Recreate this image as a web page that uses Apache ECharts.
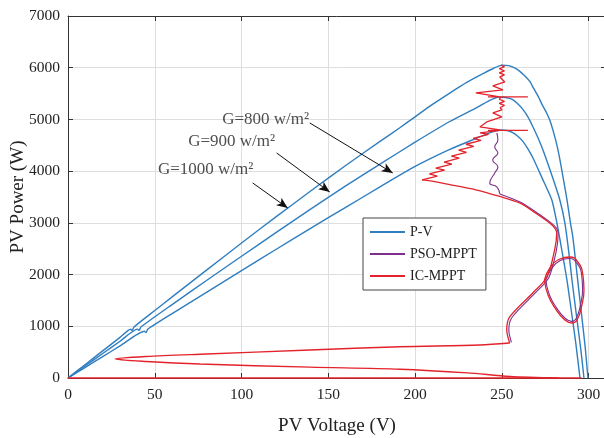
<!DOCTYPE html>
<html><head><meta charset="utf-8">
<script src="https://cdn.jsdelivr.net/npm/echarts@6/dist/echarts.min.js"></script>
<style>html,body{margin:0;padding:0;background:#fff}#c{width:604px;height:438px}</style>
</head><body><div id="c"></div>
<script>
// ---- tick labels ----
const xTicks = [0, 50, 100, 150, 200, 250, 300];
const yTicks = [0, 1000, 2000, 3000, 4000, 5000, 6000, 7000];

// ---- P-V curves [V, P] ----
const pv1000 = [[0,0],[10,262],[20,524],[30,786],[36,943],[37,920],[38,985],[50,1305],[60,1568],[80,2090],[100,2610],[120,3120],[140,3620],[160,4110],[180,4580],[191,4835],[200,5050],[210,5290],[220,5510],[230,5720],[240,5900],[245,5985],[250,6050],[254,6040],[257,6000],[260,5940],[263,5850],[266,5740],[268,5620],[271,5440],[273,5300],[276,5110],[278,4950],[281,4600],[283,4300],[285,3930],[287.5,3450],[289.5,3000],[291,2700],[293.5,1950],[296,1200],[298,600],[299.6,0]];
const pv900 = [[0,0],[10,237],[20,474],[30,711],[40,945],[41,920],[42,985],[60,1420],[80,1890],[100,2355],[120,2815],[140,3270],[160,3715],[180,4140],[200,4560],[220,4960],[235,5220],[242,5350],[248,5435],[252,5425],[256,5390],[259,5310],[262,5200],[265,5050],[268,4850],[271,4630],[274,4380],[279,3900],[283.4,3443],[286.3,3000],[288.5,2450],[290.4,1895],[293,1200],[295.5,550],[297.3,0]];
const pv800 = [[0,0],[10,207],[20,414],[30,621],[44,905],[45,880],[46,945],[60,1245],[80,1660],[100,2075],[120,2490],[140,2900],[160,3300],[180,3700],[200,4090],[220,4420],[235,4630],[243,4740],[249,4796],[253,4785],[256,4750],[259,4680],[262,4580],[265,4430],[268,4250],[273,3880],[278.8,3443],[281.7,3000],[284.5,2480],[287.5,1895],[290,1300],[292.5,700],[295,0]];

// ---- IC-MPPT trajectory pieces [V, P] ----
const icAxis = [[0,0],[296,0]];
const icLoop = [[283,0],[254.5,30],[230,100],[191.2,170],[139.4,210],[76.1,270],[45,320],[27.2,367],[45,415],[76.1,460],[139.4,541],[191.2,605],[237.3,638],[254.5,677]];
const icRise = [[254.5,677],[252.8,928],[254.5,1180],[267.8,1644],[276,1953],[280.4,2476],[281.6,2804],[280.5,2900],[277.5,2998],[268,3220],[260.3,3385],[248.8,3510],[235,3640],[220,3740],[206.8,3820],[204,3830]];
const icEllipse = [[274.5,1895],[277.7,2127],[283.4,2301],[289.2,2340],[293.8,2243],[296.7,1992],[297.3,1702],[296.1,1412],[293.3,1122],[290.4,1064],[286.3,1122],[280.6,1354],[276.6,1605],[274.5,1895]];
const icSteps = [[204,3830],[212.8,3905],[208.2,3945],[217,4020],[211.9,4060],[221.2,4135],[216.7,4175],[225.4,4250],[220.9,4290],[229.6,4365],[225.1,4405],[233.8,4480],[229.3,4520],[238,4595],[233.5,4635],[242.3,4710],[237.4,4740],[249,4790],
  [265,4790],[242,4790],[248.8,4796],
  [237.3,4854],[241.3,4951],[250,5048],[244.8,5125],[250,5183],[249,5230],[251.5,5270],[248.5,5310],[251.5,5350],[248.5,5390],[249.5,5435],
  [265,5435],[242,5435],[248.8,5435],
  [235,5512],[250.6,5570],[244.8,5647],[251.7,5725],[248.8,5821],[251.5,5860],[248.5,5900],[251.5,5940],[248.5,5980],[251.5,6020],[249.5,6050]];

// ---- PSO-MPPT trajectory pieces [V, P] ----
const psoRise = [[255.5,690],[254,930],[255.8,1170],[268.8,1630],[277,1940],[281.4,2470],[282.4,2800],[281.3,2905],[278,3010],[268.5,3235],[260.8,3400],[248.8,3560]];
const psoEllipse = [[275.3,1895],[278.3,2100],[283.6,2270],[289,2310],[293.2,2220],[296,1990],[296.5,1710],[295.4,1430],[292.8,1150],[290.2,1095],[286.6,1150],[281.2,1370],[277.3,1615],[275.3,1895]];
const psoWobble = [[248.8,3560],[247.1,3694],[243,3771],[245.9,3965],[247.7,4081],[244.7,4216],[247.7,4352],[245.9,4468],[247.7,4603],[247.1,4738]];

// ---- annotations ----
const noteTexts = ['G=800 w/m²', 'G=900 w/m²', 'G=1000 w/m²'];
const notePos = [[113.9,4990],[94.3,4564],[79.3,4023]];
const arrowFrom = [[139.3,4932],[120.2,4352],[106.4,3772]];
const arrowTo = [[187.1,3965],[150.8,3597],[126.6,3288]];

const FONT = "'Liberation Serif','DejaVu Serif',serif";
const BLUE = '#2f7ec0', RED = '#e3232b', PURPLE = '#7e2f8e';

function lineSeries(name, data, color, width, smooth, z) {
  return { name, type: 'line', data, showSymbol: false, symbol: 'none', smooth, color,
    lineStyle: { color, width }, z: z || 2, clip: false, animation: false };
}

const chart = echarts.init(document.getElementById('c'), null, { renderer: 'canvas' });
const axisCommon = {
  axisLine: { show: true, onZero: false, lineStyle: { color: '#333', width: 1 } },
  axisTick: { show: true, inside: true, length: 5, lineStyle: { color: '#333' } }
};
chart.setOption({
  animation: false,
  backgroundColor: '#fff',
  grid: { left: 68, top: 16, right: -2, bottom: 60, containLabel: false, outerBoundsMode: 'none' },
  xAxis: [
    Object.assign({ type: 'value', min: 0, max: 310, interval: 50, position: 'bottom',
      axisLabel: { formatter: v => xTicks.includes(v) ? String(v) : '', fontFamily: FONT, fontSize: 15.5, color: '#222', margin: 9 },
      splitLine: { show: true, lineStyle: { color: '#dedede', width: 1 } },
      name: 'PV Voltage (V)', nameLocation: 'middle', nameGap: 39, nameMoveOverlap: false,
      nameTextStyle: { fontFamily: FONT, fontSize: 19, color: '#222' } }, axisCommon),
    Object.assign({ type: 'value', min: 0, max: 310, interval: 50, position: 'top',
      axisLabel: { show: false }, splitLine: { show: false } }, axisCommon)
  ],
  yAxis: [
    Object.assign({ type: 'value', min: 0, max: 7000, interval: 1000, position: 'left',
      axisLabel: { formatter: v => yTicks.includes(v) ? String(v) : '', fontFamily: FONT, fontSize: 15.5, color: '#222', margin: 8 },
      splitLine: { show: true, lineStyle: { color: '#dedede', width: 1 } },
      name: 'PV Power (W)', nameLocation: 'middle', nameGap: 40, nameMoveOverlap: false,
      nameTextStyle: { fontFamily: FONT, fontSize: 19, color: '#222' } }, axisCommon),
    Object.assign({ type: 'value', min: 0, max: 7000, interval: 1000, position: 'right',
      axisLabel: { show: false }, splitLine: { show: false } }, axisCommon)
  ],
  legend: {
    data: ['P-V', 'PSO-MPPT', 'IC-MPPT'], orient: 'vertical', left: 363, top: 218,
    icon: 'rect', itemWidth: 35, itemHeight: 2, itemGap: 6,
    padding: [6, 9, 6, 7], backgroundColor: '#fff', borderColor: '#444', borderWidth: 1, borderRadius: 0,
    textStyle: { fontFamily: FONT, fontSize: 14, lineHeight: 16, color: '#222' }, selectedMode: false
  },
  series: [
    lineSeries('P-V', pv1000, BLUE, 1.4, 0.2),
    lineSeries('P-V', pv900, BLUE, 1.4, 0.2),
    lineSeries('P-V', pv800, BLUE, 1.4, 0.2),
    lineSeries('PSO-MPPT', psoRise, PURPLE, 1.1, 0.3, 3),
    lineSeries('PSO-MPPT', psoEllipse, PURPLE, 1.1, 0.5, 3),
    lineSeries('PSO-MPPT', psoWobble, PURPLE, 1.1, 0.5, 3),
    lineSeries('IC-MPPT', icAxis, RED, 1.6, false, 4),
    lineSeries('IC-MPPT', icLoop, RED, 1.4, 0.3, 4),
    lineSeries('IC-MPPT', icRise, RED, 1.3, 0.3, 4),
    lineSeries('IC-MPPT', icEllipse, RED, 1.3, 0.5, 4),
    lineSeries('IC-MPPT', icSteps, RED, 1.3, false, 4),
    {
      name: 'notes', type: 'scatter', symbolSize: 0, z: 5, animation: false,
      data: notePos.map((p, i) => [p[0], p[1], noteTexts[i]]),
      label: { show: true, position: 'inside', formatter: p => p.data[2], fontFamily: FONT, fontSize: 17, color: '#222' },
      markLine: {
        silent: true, symbol: ['none', 'arrow'], symbolSize: [7, 11], animation: false,
        label: { show: false },
        lineStyle: { color: '#111', width: 1, type: 'solid' },
        data: arrowFrom.map((a, i) => [{ coord: a }, { coord: arrowTo[i] }])
      }
    }
  ]
});
</script></body></html>
